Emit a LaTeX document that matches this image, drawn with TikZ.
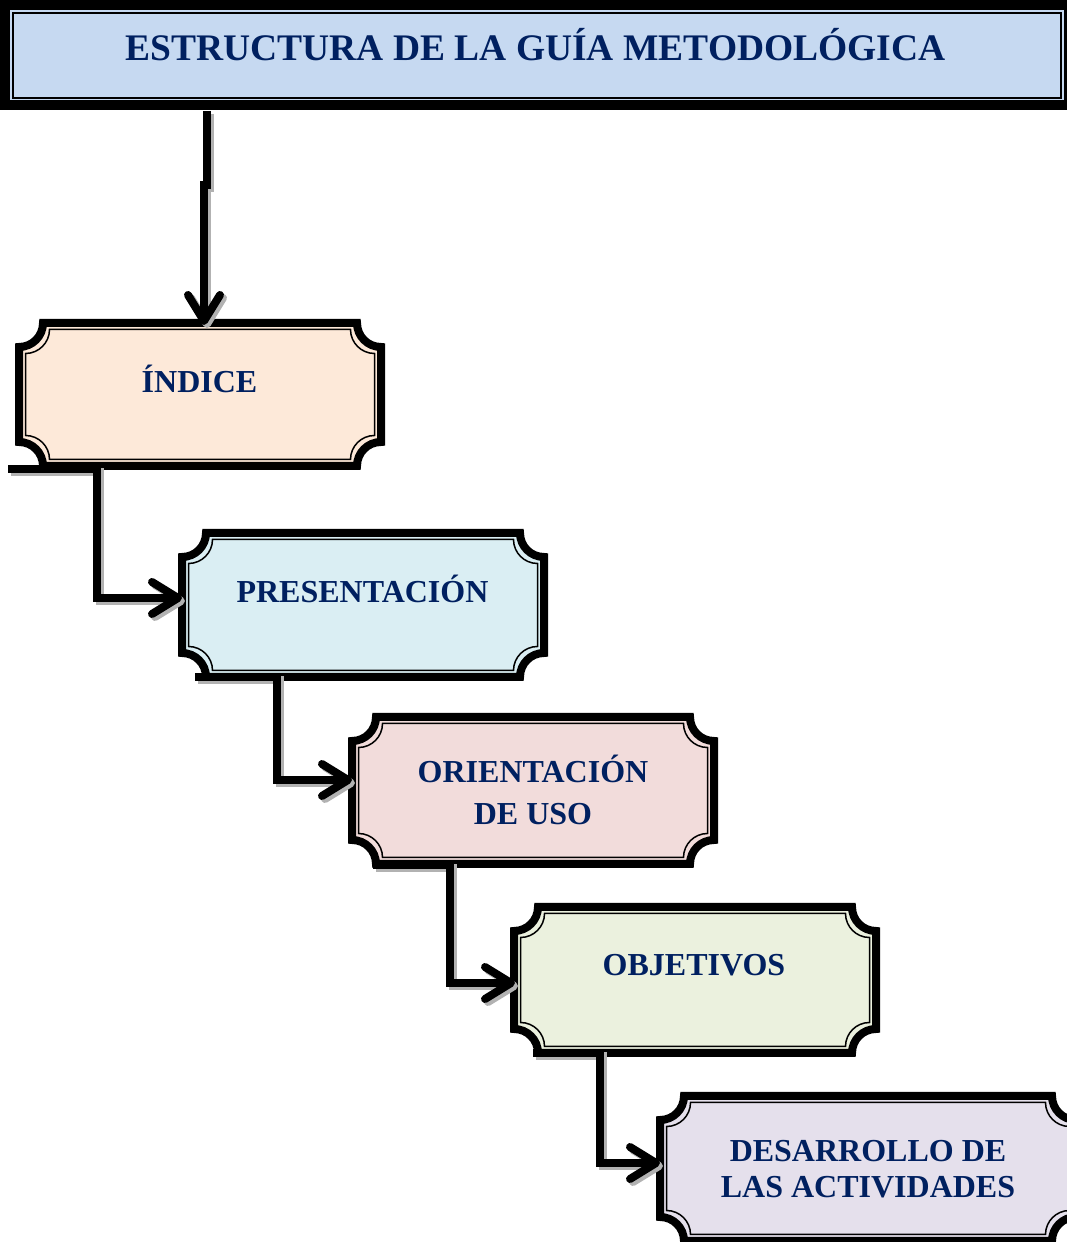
\documentclass[tikz,border=0pt]{standalone}
\usepackage{fontspec}
\setmainfont{Liberation Serif}
\usetikzlibrary{arrows.meta,calc}

\definecolor{navy}{HTML}{002060}
\definecolor{titlefill}{HTML}{C6D9F1}
\definecolor{peach}{HTML}{FDE9D9}
\definecolor{aqua}{HTML}{DAEEF3}
\definecolor{rose}{HTML}{F2DCDB}
\definecolor{olive}{HTML}{EBF1DE}
\definecolor{lilac}{HTML}{E5E0EC}

% plaque outline with concave corners: node, inset, radius
\newcommand\plaquepath[3]{%
  let \p1=([shift={(#2,#2)}]#1.south west), \p2=([shift={(-#2,-#2)}]#1.north east) in
  (\x1,\y2-#3) arc[start angle=270,end angle=360,radius=#3]
  -- (\x2-#3,\y2) arc[start angle=180,end angle=270,radius=#3]
  -- (\x2,\y1+#3) arc[start angle=90,end angle=180,radius=#3]
  -- (\x1+#3,\y1) arc[start angle=0,end angle=90,radius=#3] -- cycle}

\begin{document}
\begin{tikzpicture}[x=1pt,y=1pt,
    box/.style={minimum width=370pt, minimum height=152pt, inner sep=0pt, outer sep=0pt},
    boxtext/.style={anchor=base, text=navy, inner sep=0pt,
      font=\bfseries\fontsize{32}{36}\selectfont},
    link/.style={line width=8pt, -{Straight Barb[length=26pt,width=32pt,round]}}]
  \useasboundingbox (0,0) rectangle (1067,1242);
  \clip (0,0) rectangle (1067,1242);
  % frames
  \node[box, minimum width=1074pt, minimum height=111pt] (title) at (537,1186.5) {};
  \node[box, minimum height=151pt] (indice box) at (200,847.5) {};
  \node[box] (presentacion box) at (363,637) {};
  \node[box, minimum height=155pt] (orientacion box) at (533,451.5) {};
  \node[box, minimum height=154pt] (objetivos box) at (695,262) {};
  \node[box, minimum width=424pt, minimum height=153pt] (desarrollo box) at (868,73.5) {};
  \filldraw[fill=titlefill, line width=10pt]
    ([shift={(5pt,5.5pt)}]title.south west) rectangle ([shift={(-5pt,-5pt)}]title.north east);
  \draw[line width=2pt]
    ([shift={(13pt,13pt)}]title.south west) rectangle ([shift={(-13pt,-13pt)}]title.north east);
  \foreach \b/\c in {indice box/peach, presentacion box/aqua, orientacion box/rose,
      objetivos box/olive, desarrollo box/lilac} {
    \filldraw[fill=\c, line width=8pt] \plaquepath{\b}{4pt}{24pt};
    \draw[line width=1.5pt] \plaquepath{\b}{10.5pt}{24pt};
  }
  % connectors, each with its grey shadow first
  \foreach \s/\o in {{black!30}/{3pt,-3pt}, black/{0pt,0pt}} {
    \begin{scope}[transform canvas={shift={(\o)}}, draw=\s]
      \draw[link] ([xshift=-330pt]title.south) -- ++(0,-74) -- ++(-3,0)
        -- ([shift={(4pt,-6pt)}]indice box.north);
      \draw[link] ([shift={(-7pt,1pt)}]indice box.south west) -- ++(88.5,0)
        |- ([shift={(4pt,7pt)}]presentacion box.west);
      \draw[link] ([shift={(17pt,4pt)}]presentacion box.south west) -- ++(81.5,0)
        |- ([shift={(4pt,10.5pt)}]orientacion box.west);
      \draw[link] ([shift={(25pt,3pt)}]orientacion box.south west) -- ++(76.5,0)
        |- ([shift={(5pt,-3pt)}]objetivos box.west);
      \draw[link] ([shift={(23pt,4pt)}]objetivos box.south west) -- ++(66.5,0)
        |- ([shift={(4pt,5.5pt)}]desarrollo box.west);
    \end{scope}
  }
  % texts
  \node[boxtext, font=\bfseries\fontsize{37.5}{40}\selectfont] (heading) at (535.5,1181)
    {ESTRUCTURA DE LA GUÍA METODOLÓGICA};
  \node[boxtext] (indice) at (199.5,849) {ÍNDICE};
  \node[boxtext] (presentacion) at (362.5,639) {PRESENTACIÓN};
  \node[boxtext] (orientacion) at (533,459) {ORIENTACIÓN};
  \node[boxtext] (uso) at (533,417) {DE USO};
  \node[boxtext] (objetivos) at (694,266) {OBJETIVOS};
  \node[boxtext] (desarrollo) at (868,80) {DESARROLLO DE};
  \node[boxtext] (actividades) at (868,44) {LAS ACTIVIDADES};
\end{tikzpicture}
\end{document}
